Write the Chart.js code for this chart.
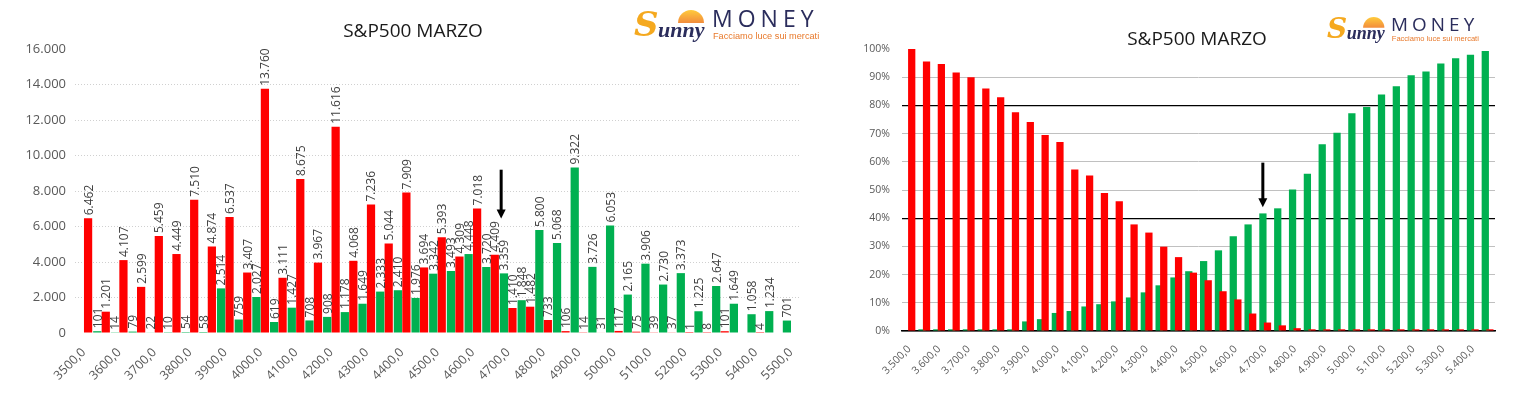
<!DOCTYPE html>
<html>
<head>
<meta charset="utf-8">
<script src="https://cdn.jsdelivr.net/npm/chart.js@4.4.1/dist/chart.umd.min.js"></script>
<style>
  html, body { margin:0; padding:0; background:#fff; width:1515px; height:394px; overflow:hidden; position:relative; font-family:'Open Sans', sans-serif; }
  canvas { position:absolute; top:0; }
  #c1 { left:0; }
  #c2 { left:840px; }
  .title { position:absolute; font:19px 'Open Sans', sans-serif; color:#1a1a1a; white-space:nowrap; transform:translateX(-50%); line-height:1; }
  .logo { position:absolute; width:185px; height:42px; transform-origin:0 0; }
  .logo .sun { position:absolute; left:44px; top:5px; width:26px; height:13px; border-radius:13px 13px 0 0; background:linear-gradient(#ffc21a,#f0781a); opacity:0.85; }
  .logo .bigS { position:absolute; left:0; top:-1px; font:italic bold 34px 'DejaVu Serif', serif; color:#f5a91f; line-height:1.2; }
  .logo .unny { position:absolute; left:24px; top:12px; font:italic bold 22px 'Liberation Serif', serif; color:#2b2d5c; line-height:1.2; }
  .logo .money { position:absolute; left:78px; top:0px; font:400 23px 'Open Sans', sans-serif; letter-spacing:5px; color:#2b2d5c; line-height:1.2; }
  .logo .tag { position:absolute; left:79px; top:27px; font:9.2px 'Liberation Sans Narrow', 'Liberation Sans', sans-serif; color:#e8792b; white-space:nowrap; line-height:1; }
</style>
</head>
<body>
<canvas id="c1" width="830" height="394"></canvas>
<canvas id="c2" width="675" height="394"></canvas>

<div class="title" style="left:413px; top:21px;">S&amp;P500 MARZO</div>
<div class="title" style="left:1197px; top:29px;">S&amp;P500 MARZO</div>

<div class="logo" style="left:634px; top:5px;">
  <div class="sun"></div>
  <span class="bigS">S</span><span class="unny">unny</span>
  <span class="money">MONEY</span>
  <span class="tag">Facciamo luce sui mercati</span>
</div>
<div class="logo" style="left:1327px; top:13px; transform:scale(0.82);">
  <div class="sun"></div>
  <span class="bigS">S</span><span class="unny">unny</span>
  <span class="money">MONEY</span>
  <span class="tag">Facciamo luce sui mercati</span>
</div>

<script>
// ---------- DATA ----------
const strikes = [3500,3550,3600,3650,3700,3750,3800,3850,3900,3950,4000,4050,4100,4150,4200,4250,4300,4350,4400,4450,4500,4550,4600,4650,4700,4750,4800,4850,4900,4950,5000,5050,5100,5150,5200,5250,5300,5350,5400,5450,5500];
const callOI = [null,101,14,79,22,10,54,58,2514,759,2027,619,1427,708,908,1178,1649,2333,2410,1976,3342,3493,4448,3720,3359,1848,5800,5068,9322,3726,6053,2165,3906,2730,3373,1225,2647,1649,1058,1234,701];
const putOI  = [6462,1201,4107,2599,5459,4449,7510,4874,6537,3407,13760,3111,8675,3967,11616,4068,7236,5044,7909,3694,5393,4309,7018,4409,1410,1482,733,106,14,31,117,75,39,37,1,8,101,null,4,null,null];
const leftTickLabels = strikes.map(s => s + ',0');
const leftYTicks = [0,2000,4000,6000,8000,10000,12000,14000,16000];

const strikesPct = [3500,3550,3600,3650,3700,3750,3800,3850,3900,3950,4000,4050,4100,4150,4200,4250,4300,4350,4400,4450,4500,4550,4600,4650,4700,4750,4800,4850,4900,4950,5000,5050,5100,5150,5200,5250,5300,5350,5400,5450];
const callCumPct = [null,0.6,0.6,0.6,0.6,0.6,0.6,0.6,3.4,4.2,6.4,7.1,8.7,9.5,10.5,11.9,13.7,16.2,19.0,21.2,24.8,28.6,33.6,37.8,41.7,43.5,50.2,55.8,66.2,70.3,77.2,79.4,83.9,86.8,90.7,92.0,94.9,96.7,98.0,99.3];
const putCumPct  = [100,95.6,94.7,91.7,90.0,86.0,82.9,77.6,74.1,69.5,67.0,57.3,55.1,48.9,46.0,37.8,34.9,29.9,26.2,20.7,18.0,14.1,11.2,6.2,3.0,2.0,1.0,0.6,0.6,0.6,0.6,0.6,0.6,0.6,0.6,0.6,0.6,0.6,0.6,0.6];
const rightTickLabels = strikesPct.map(s => String(s).replace(/\B(?=(\d{3})+(?!\d))/g, '.') + ',0');
const rightYTicks = [0,10,20,30,40,50,60,70,80,90,100];
const rightDarkLines = [40, 80];

// Arrow annotations (in data units: category index position, value from -> to)
const arrowLeft  = { at: 23.6, from: 9200, to: 6450 };
const arrowRight = { at: 23.84, from: 59.7, to: 43.9 };

// ---------- HELPERS ----------
const GREEN = '#00B050';
const RED = '#FF0000';
const TXT = '#595959';
function fmtIt(n) { return String(n).replace(/\B(?=(\d{3})+(?!\d))/g, '.'); }

Chart.defaults.font.family = "'Open Sans', sans-serif";
Chart.defaults.color = TXT;

const barLabels = {
  id: 'barLabels',
  afterDatasetsDraw(chart) {
    const ctx = chart.ctx;
    ctx.save();
    ctx.font = "12px 'Open Sans', sans-serif";
    ctx.fillStyle = '#404040';
    ctx.textAlign = 'left';
    ctx.textBaseline = 'middle';
    chart.data.datasets.forEach((ds, di) => {
      const meta = chart.getDatasetMeta(di);
      meta.data.forEach((bar, i) => {
        const v = ds.data[i];
        if (v === null || v === undefined) return;
        ctx.save();
        ctx.translate(bar.x + 1, bar.y - 3);
        ctx.rotate(-Math.PI / 2);
        ctx.fillText(fmtIt(v), 0, 0);
        ctx.restore();
      });
    });
    ctx.restore();
  }
};

const arrow = {
  id: 'arrow',
  afterDatasetsDraw(chart, args, opts) {
    if (!opts || opts.at === undefined) return;
    const xs = chart.scales.x, ys = chart.scales.y;
    const i0 = Math.floor(opts.at), f = opts.at - i0;
    const p0 = xs.getPixelForValue(i0), p1 = xs.getPixelForValue(i0 + 1);
    const x = p0 + f * (p1 - p0);
    const y1 = ys.getPixelForValue(opts.from), y2 = ys.getPixelForValue(opts.to);
    const ctx = chart.ctx;
    ctx.save();
    ctx.strokeStyle = '#000';
    ctx.fillStyle = '#000';
    ctx.lineWidth = 3;
    ctx.beginPath();
    ctx.moveTo(x, y1);
    ctx.lineTo(x, y2 - 7);
    ctx.stroke();
    ctx.beginPath();
    ctx.moveTo(x - 4.5, y2 - 9);
    ctx.lineTo(x + 4.5, y2 - 9);
    ctx.lineTo(x, y2);
    ctx.closePath();
    ctx.fill();
    ctx.restore();
  }
};

const redOnTop = {
  id: 'redOnTop',
  beforeDatasetDraw(chart, args) {
    if (args.index === 1) return false;
  },
  afterDatasetsDraw(chart) {
    chart.getDatasetMeta(1).controller.draw();
  }
};

// ---------- LEFT CHART ----------
new Chart(document.getElementById('c1'), {
  type: 'bar',
  data: {
    labels: leftTickLabels,
    datasets: [
      { label: 'Call', data: callOI, backgroundColor: GREEN, categoryPercentage: 0.96, barPercentage: 0.97 },
      { label: 'Put', data: putOI, backgroundColor: RED, categoryPercentage: 0.96, barPercentage: 0.97 }
    ]
  },
  options: {
    responsive: false,
    animation: false,
    layout: { padding: { top: 49, right: 30, left: 0, bottom: 0 } },
    plugins: {
      legend: { display: false },
      tooltip: { enabled: false },
      arrow: arrowLeft
    },
    scales: {
      x: {
        grid: { display: false },
        border: { display: false },
        ticks: {
          autoSkip: false, maxRotation: 45, minRotation: 45,
          font: { size: 12.5 }, color: TXT, padding: 4,
          callback: (v, i) => (i % 2 === 0 ? leftTickLabels[i] : '')
        },
        afterFit: s => { s.height = 61; }
      },
      y: {
        min: 0, max: 16000,
        afterBuildTicks: s => { s.ticks = leftYTicks.map(v => ({ value: v })); },
        grid: {
          drawTicks: false,
          color: c => (c.tick && (c.tick.value === 0 || c.tick.value === 16000)) ? 'rgba(0,0,0,0)' : '#d0d0d0'
        },
        border: { display: false, dash: [1, 2] },
        ticks: { font: { size: 13 }, color: TXT, padding: 9, callback: v => fmtIt(v) },
        afterFit: s => { s.width = 75; }
      }
    }
  },
  plugins: [barLabels, arrow]
});

// ---------- RIGHT CHART ----------
new Chart(document.getElementById('c2'), {
  type: 'bar',
  data: {
    labels: rightTickLabels,
    datasets: [
      { label: 'Call %', data: callCumPct, backgroundColor: GREEN, categoryPercentage: 0.62, barPercentage: 1.58 },
      { label: 'Put %', data: putCumPct, backgroundColor: RED, categoryPercentage: 0.62, barPercentage: 1.58 }
    ]
  },
  options: {
    responsive: false,
    animation: false,
    layout: { padding: { top: 49, right: 20, left: 0, bottom: 0 } },
    plugins: {
      legend: { display: false },
      tooltip: { enabled: false },
      arrow: arrowRight
    },
    scales: {
      x: {
        grid: { display: false },
        border: { display: true, color: '#000', width: 1.5 },
        ticks: {
          autoSkip: false, maxRotation: 45, minRotation: 45,
          font: { size: 10.5 }, color: TXT, padding: 4,
          callback: (v, i) => (i % 2 === 0 ? rightTickLabels[i] : '')
        },
        afterFit: s => { s.height = 63; }
      },
      y: {
        min: 0, max: 100,
        afterBuildTicks: s => { s.ticks = rightYTicks.map(v => ({ value: v })); },
        grid: {
          drawTicks: false,
          color: c => {
            if (!c.tick) return '#c0c0c0';
            if (c.tick.value === 100) return 'rgba(0,0,0,0)';
            if (rightDarkLines.includes(c.tick.value)) return '#000';
            return '#c0c0c0';
          },
          lineWidth: c => (c.tick && rightDarkLines.includes(c.tick.value)) ? 1.3 : 1
        },
        border: { display: false },
        ticks: { font: { size: 10.5 }, color: TXT, padding: 12, callback: v => v + '%' },
        afterFit: s => { s.width = 62; }
      }
    }
  },
  plugins: [redOnTop, arrow]
});
</script>
</body>
</html>
